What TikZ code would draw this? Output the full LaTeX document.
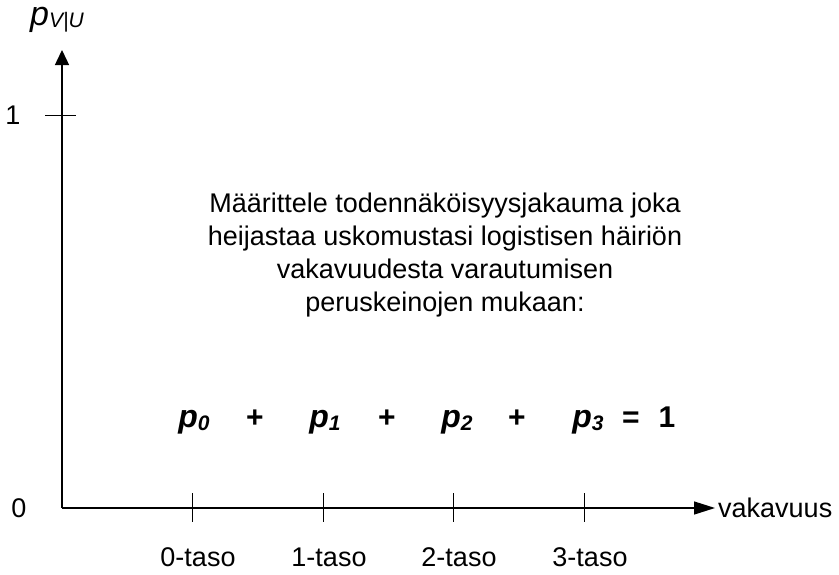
\documentclass[tikz,border=0pt]{standalone}
\usepackage{fontspec}
\setmainfont{Liberation Sans}
\usetikzlibrary{arrows.meta}

\newcommand{\pterm}[1]{{\fontsize{32}{34}\selectfont\bfseries\itshape p\raisebox{-0.12em}{\fontsize{21}{23}\selectfont #1}}}
\newcommand{\eqsym}[1]{{\fontsize{30}{32}\selectfont\bfseries #1}}

\begin{document}
\begin{tikzpicture}[x=1pt,y=-1pt,
    xaxis/.style={line width=1.4pt,-{Triangle[length=21pt,width=13pt]}},
    yaxis/.style={line width=1.4pt,-{Triangle[length=15pt,width=14pt]}},
    tick/.style={line width=1pt},
    lbl/.style={inner sep=0pt,font=\fontsize{27}{30}\selectfont},
    eqn/.style={inner sep=0pt,anchor=base}]
    \useasboundingbox (0,0) rectangle (839,574);

    % axes
    \coordinate (origin) at (62,508);
    \coordinate (ytop) at (62,50);
    \coordinate (xend) at (715,508);
    \draw[yaxis] (origin) -- (ytop);
    \draw[xaxis] (origin) -- (xend);

    \node[lbl, anchor=west] (xlabel) at (718,508) {vakavuus};
    \node[inner sep=0pt] (ylabel) at (57,20) {{\fontsize{34}{36}\selectfont\itshape p}\raisebox{-0.3ex}{\fontsize{21}{23}\selectfont\itshape V|U}};

    % y ticks
    \coordinate (one) at (62,115);
    \draw[tick] ([xshift=-17pt]one) -- ([xshift=14pt]one);
    \node[lbl] (ylab1) at (13,115) {1};
    \node[lbl] (ylab0) at (19,508) {0};

    % x ticks
    \foreach \x/\lev in {192/0,323/1,453/2,584/3} {
        \draw[tick] (\x,493) -- (\x,522);
        \node[lbl] (lev\lev) at ([xshift=6pt]\x,557) {\lev-taso};
    }

    % text
    \node[lbl, align=center, font=\fontsize{27}{33}\selectfont] (info) at (445,255)
        {Määrittele todennäköisyysjakauma joka\\
         heijastaa uskomustasi logistisen häiriön\\
         vakavuudesta varautumisen\\
         peruskeinojen mukaan:};

    % equation
    \node[eqn] (p0) at (194,427) {\pterm{0}};
    \node[eqn] (plus1) at (255,427) {\eqsym{+}};
    \node[eqn] (p1) at (325,427) {\pterm{1}};
    \node[eqn] (plus2) at (387,427) {\eqsym{+}};
    \node[eqn] (p2) at (457,427) {\pterm{2}};
    \node[eqn] (plus3) at (517,427) {\eqsym{+}};
    \node[eqn] (p3) at (588,427) {\pterm{3}};
    \node[eqn] (eq) at (631,427) {\eqsym{=}};
    \node[eqn] (oneval) at (667,427) {\eqsym{1}};
\end{tikzpicture}
\end{document}
